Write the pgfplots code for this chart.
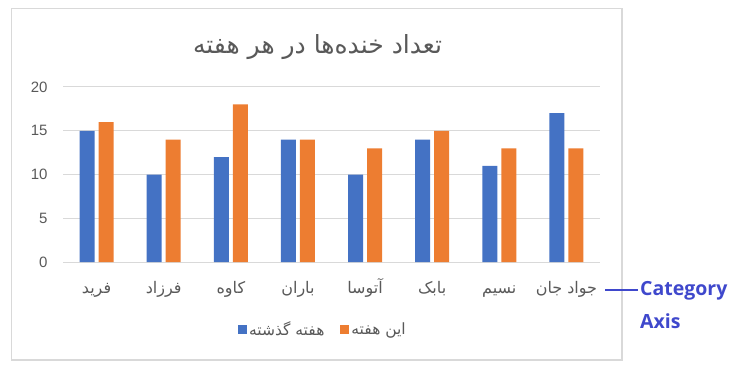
\documentclass[border=0pt]{standalone}
\usepackage{pgfplots}
\pgfplotsset{compat=1.18}
\usepackage{fontspec}
\setmainfont{Liberation Sans}
\newfontfamily\arabicfont[Script=Arabic]{DejaVu Sans}
\newfontfamily\annfont{Open Sans}
\TeXXeTstate=1
\definecolor{cblue}{HTML}{4472C4}
\definecolor{corange}{HTML}{ED7D31}
\definecolor{cgrid}{HTML}{D9D9D9}
\definecolor{ctext}{HTML}{595959}
\definecolor{cann}{HTML}{3F48CC}
\newcommand{\fa}[1]{{\arabicfont\beginR #1\endR}}
\begin{document}
\begin{tikzpicture}[x=1pt,y=1pt]
\path[use as bounding box] (0,0) rectangle (744,370);
\draw[cgrid, line width=1.2pt] (11.5,10) rectangle (622,361.5);
\begin{axis}[
 at={(63pt,108pt)}, anchor=south west,
 scale only axis, width=537pt, height=175pt,
 ymin=0, ymax=20, xmin=-0.5, xmax=7.5,
 ytick={0,5,10,15,20},
 xtick={0,...,7},
 xticklabels={\fa{فرید},\fa{فرزاد},\fa{کاوه},\fa{باران},\fa{آتوسا},\fa{بابک},\fa{نسیم},\fa{جواد جان}},
 ybar=4pt, bar width=15pt,
 ymajorgrids, grid style={cgrid, line width=1pt},
 axis line style={draw=none},
 major tick length=0pt,
 tick label style={font=\fontsize{15}{18}\selectfont, text=ctext},
 /pgf/number format/assume math mode=true,
 yticklabel style={xshift=-12pt},
 xticklabel style={anchor=base, yshift=-31pt, font=\fontsize{16}{19}\selectfont},
 legend style={at={(0.484,-0.386)}, anchor=center, draw=none, legend columns=2,
   font=\fontsize{15.5}{19}\selectfont, text=ctext},
]
\addplot[fill=cblue, draw=none, legend image code/.code={\fill[cblue] (0pt,-4.5pt) rectangle (9pt,4.5pt);}]
 coordinates {(0,15) (1,10) (2,12) (3,14) (4,10) (5,14) (6,11) (7,17)};
\addplot[fill=corange, draw=none, legend image code/.code={\fill[corange] (0pt,-4.5pt) rectangle (9pt,4.5pt);}]
 coordinates {(0,16) (1,14) (2,18) (3,14) (4,13) (5,15) (6,13) (7,13)};
\legend{\fa{هفته گذشته}\rule{14pt}{0pt},\fa{این هفته}}
\end{axis}
\node[font=\arabicfont\fontsize{25}{30}\selectfont, text=ctext] at (317.5,323) {\beginR تعداد خنده‌ها در هر هفته\endR};
\draw[cann, line width=2.5pt] (605,80) -- (638,80);
\node[anchor=west, inner sep=0pt, font=\annfont\bfseries\fontsize{19.5}{22}\selectfont, text=cann] at (640,79) {Category};
\node[anchor=west, inner sep=0pt, font=\annfont\bfseries\fontsize{19.5}{22}\selectfont, text=cann] at (640,49) {Axis};
\end{tikzpicture}
\end{document}
